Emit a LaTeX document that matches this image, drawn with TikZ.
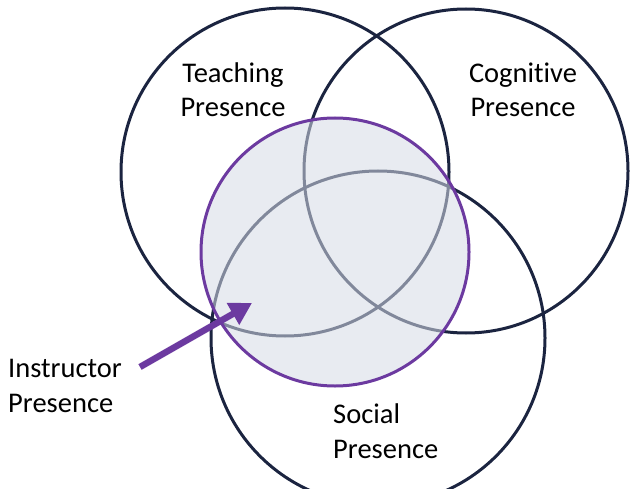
\documentclass[tikz,border=0pt]{standalone}
\usepackage{fontspec}
\setmainfont{Carlito}[Ligatures=NoCommon]
\usetikzlibrary{arrows.meta}
\definecolor{navy}{RGB}{27,36,64}
\definecolor{ipurple}{RGB}{108,58,160}
\definecolor{haze}{RGB}{214,219,230}
\begin{document}
\begin{tikzpicture}[x=1pt,y=-1pt,
  ring/.style={draw=navy,line width=3pt},
  txt/.style={font=\fontsize{28.5}{34.5}\selectfont,text=black,inner sep=0pt}]
\useasboundingbox (0,0) rectangle (631,489);
\clip (0,0) rectangle (631,489);
% the three presence circles
\draw[ring] (285,172) circle[radius=164pt];
\draw[ring] (466,171) circle[radius=162pt];
\draw[ring] (378,338) circle[radius=167pt];
% instructor presence: translucent disk over the overlap
\fill[haze,fill opacity=0.55] (335,252) circle[radius=134pt];
\draw[ipurple,line width=3pt] (335,252) circle[radius=134pt];
% labels (anchored on the baseline of their last line)
\node[txt,anchor=base,align=center] (teach) at (233,117) {Teaching\\Presence};
\node[txt,anchor=base,align=center] (cogn) at (523,117) {Cognitive\\Presence};
\node[txt,anchor=base west,align=left] (instr) at (8,412) {Instructor\\Presence};
\node[txt,anchor=base west,align=left] (soc) at (333,458) {Social\\Presence};
% pointer into the instructor disk
\coordinate (arrtail) at (140,367);
\coordinate (arrtip) at (252,303);
\draw[ipurple,line width=6.5pt,-{Triangle[length=22pt,width=24pt]}] (arrtail) -- (arrtip);
\end{tikzpicture}
\end{document}
